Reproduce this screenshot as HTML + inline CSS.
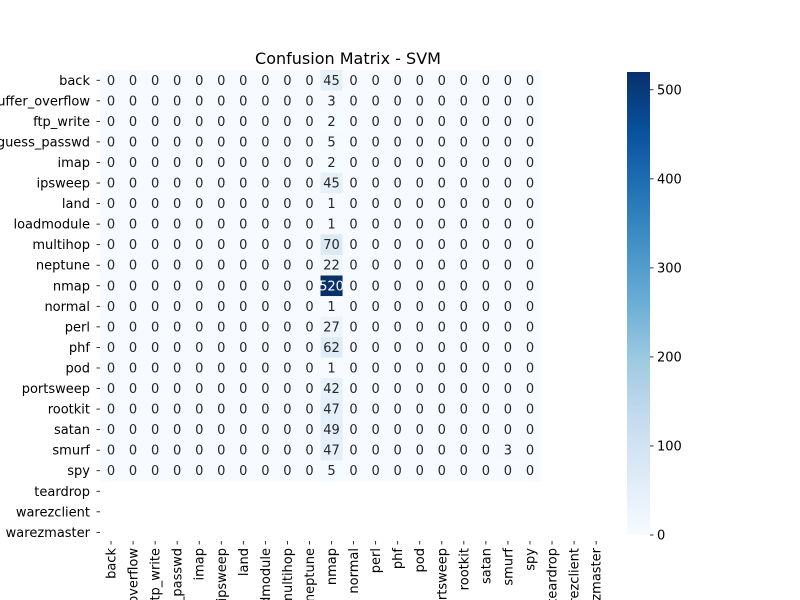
<!DOCTYPE html>
<html><head><meta charset="utf-8"><style>
html,body{margin:0;padding:0;background:#fff;width:800px;height:600px;overflow:hidden;}
svg{display:block;overflow:hidden;font-family:"DejaVu Sans","Liberation Sans",sans-serif;}
</style></head><body>
<svg id="chart" width="800" height="600" viewBox="0 0 800 600">
<text x="348" y="64" font-size="16" text-anchor="middle" fill="#000">Confusion Matrix - SVM</text>
<g id="cells"></g>
<g id="ylabels"></g>
<g id="xlabels"></g>
<defs><linearGradient id="blues" x1="0" y1="1" x2="0" y2="0">
<stop offset="0" stop-color="#f7fbff"/><stop offset="0.125" stop-color="#deebf7"/><stop offset="0.25" stop-color="#c6dbef"/><stop offset="0.375" stop-color="#9ecae1"/><stop offset="0.5" stop-color="#6baed6"/><stop offset="0.625" stop-color="#4292c6"/><stop offset="0.75" stop-color="#2171b5"/><stop offset="0.875" stop-color="#08519c"/><stop offset="1" stop-color="#08306b"/>
</linearGradient></defs>
<rect x="627" y="72" width="23" height="463" fill="url(#blues)"/>
<g id="cbticks"></g>
</svg>
<script>
const labels=["back","buffer_overflow","ftp_write","guess_passwd","imap","ipsweep","land","loadmodule","multihop","neptune","nmap","normal","perl","phf","pod","portsweep","rootkit","satan","smurf","spy","teardrop","warezclient","warezmaster"];
const nmapColumn=[45,3,2,5,2,45,1,1,70,22,520,1,27,62,1,42,47,49,47,5];
const smurfRow=[0,0,0,0,0,0,0,0,0,0,0,0,0,0,0,0,0,0,3,0];
const cbTicks=[0,100,200,300,400,500];
const vmax=520;
const NR=20,NC=20;
const matrix=[];
for(let r=0;r<NR;r++){const row=[];for(let c=0;c<NC;c++){row.push(c===10?nmapColumn[r]:(r===18?smurfRow[c]:0));}matrix.push(row);}
const x0=100,y0=70,cw=22.05,rh=20.55,axBottom=541;
const xPos=i=>x0+(i+0.5)*cw, yPos=i=>y0+(i+0.5)*rh;
const stops=[[247,251,255],[222,235,247],[198,219,239],[158,202,225],[107,174,214],[66,146,198],[33,113,181],[8,81,156],[8,48,107]];
function cmap(v){let t=Math.max(0,Math.min(1,v/vmax))*8;let i=Math.min(7,Math.floor(t)),f=t-i;const a=stops[i],b=stops[i+1];return `rgb(${a.map((x,k)=>Math.round(x+(b[k]-x)*f)).join(',')})`;}
const NS="http://www.w3.org/2000/svg";
function el(t,a,p){const e=document.createElementNS(NS,t);for(const k in a)e.setAttribute(k,a[k]);p.appendChild(e);return e;}
const cells=document.getElementById('cells');
for(let r=0;r<NR;r++)for(let c=0;c<NC;c++){
 const v=matrix[r][c];
 const rc=el('rect',{x:x0+c*cw,y:y0+r*rh,width:cw+0.4,height:rh+0.4,fill:cmap(v)},cells);
 
 
 const tx=el('text',{x:xPos(c),y:yPos(r)+4.5,'font-size':13,'text-anchor':'middle',fill:v>vmax*0.5?'#fff':'#262626'},cells);
 
 
 tx.textContent=v;
}
const yl=document.getElementById('ylabels'),xl=document.getElementById('xlabels');
labels.forEach((l,i)=>{
 const y=yPos(i);
 el('line',{x1:96.5,x2:100,y1:y,y2:y,stroke:'#000','stroke-width':0.8},yl);
 const t=el('text',{x:90,y:y+4.5,'font-size':13,'text-anchor':'end',fill:'#000'},yl);
 
 
 t.textContent=l;
 const x=xPos(i);
 el('line',{x1:x,x2:x,y1:axBottom,y2:axBottom+3.5,stroke:'#000','stroke-width':0.8},xl);
 const s=el('text',{x:0,y:0,'font-size':13,'text-anchor':'end',fill:'#000',transform:`translate(${x+4.5},${axBottom+7}) rotate(-90)`},xl);
 
 
 s.textContent=l;
});
const cb=document.getElementById('cbticks');
cbTicks.forEach(v=>{
 const y=535-v/vmax*463;
 el('line',{x1:650,x2:653.5,y1:y,y2:y,stroke:'#000','stroke-width':0.8},cb);
 const t=el('text',{x:657,y:y+4.5,'font-size':13,fill:'#000'},cb);
 
 
 t.textContent=v;
});
</script>
</body></html>
